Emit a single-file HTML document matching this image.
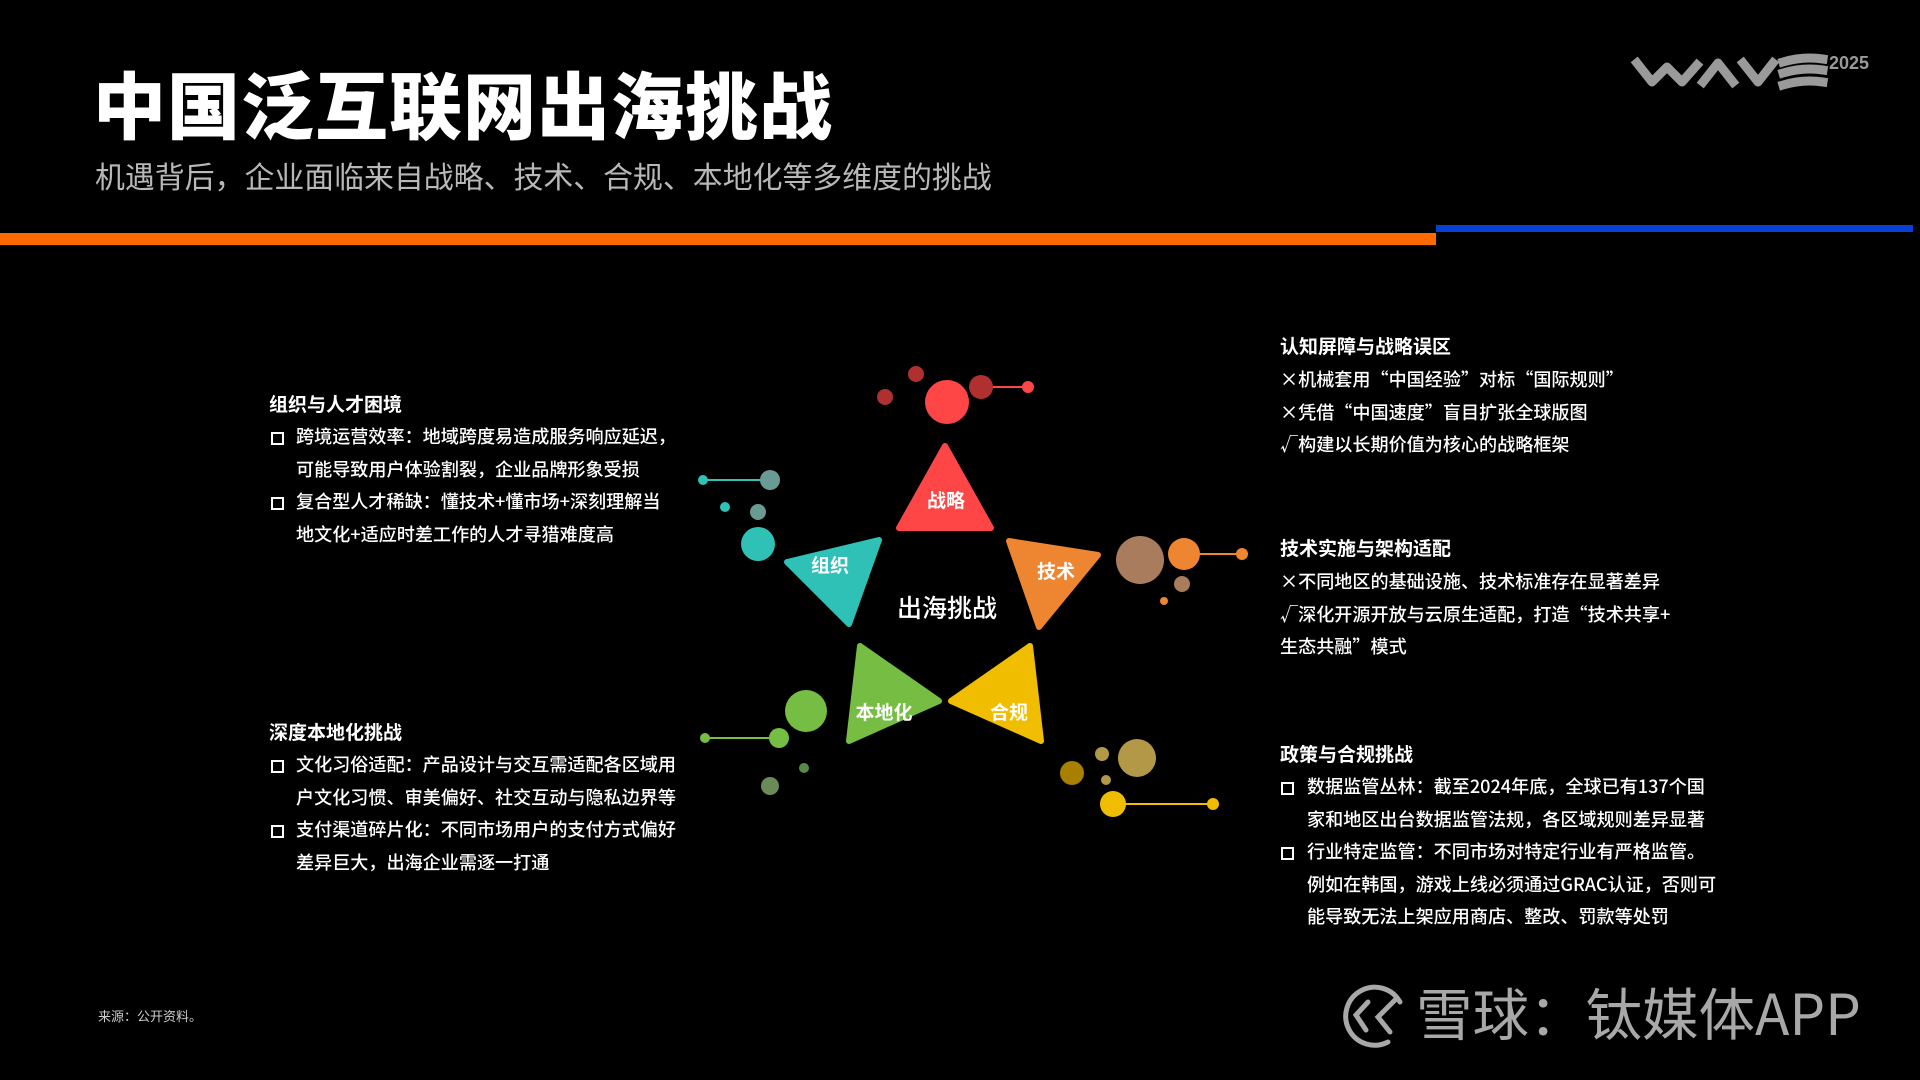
<!DOCTYPE html>
<html><head><meta charset="utf-8">
<style>
html,body{margin:0;padding:0;background:#000;}
body{width:1920px;height:1080px;position:relative;overflow:hidden;font-family:"Noto Sans CJK SC","Liberation Sans",sans-serif;color:#fff;}
.a{position:absolute;white-space:nowrap;}
.h{font-size:19px;font-weight:700;}
.t{font-size:18.1px;font-weight:500;line-height:32.5px;}
.b{position:absolute;width:9px;height:9px;border:2.5px solid #fff;}
</style></head><body>
<div class="a" style="left:93px;top:52px;font-size:73px;font-weight:900;letter-spacing:1px;line-height:100px;">中国泛互联网出海挑战</div>
<div class="a" style="left:95px;top:155px;font-size:29.9px;color:#b8b8b8;line-height:40px;">机遇背后，企业面临来自战略、技术、合规、本地化等多维度的挑战</div>
<div class="a" style="left:0;top:233px;width:1436px;height:12px;background:#ff6a00;"></div>
<div class="a" style="left:1436px;top:225px;width:477px;height:7px;background:#0a3fd6;"></div>
<svg class="a" style="left:1620px;top:45px" width="270" height="55">
<g fill="none" stroke="#9a9a9a" stroke-width="9" stroke-linejoin="round" stroke-linecap="square">
<polyline points="17,18 32,37 47,22 62,37 77,20"/>
<polyline points="83,37 98,18 113,37"/>
<polyline points="123,18 138,37 153,18"/>
<path d="M163,17 q20,-6 40,-3 M163,28 q20,-6 40,-3 M163,40 q20,-6 40,-3"/>
</g>
<text x="209" y="24" font-family="Liberation Sans,sans-serif" font-weight="700" font-size="18" fill="#9a9a9a">2025</text>
</svg>

<svg class="a" style="left:0;top:0" width="1920" height="1080">
<g stroke-linejoin="round" stroke-width="6">
<polygon points="945,446 899,528 991,528" fill="#ff4646" stroke="#ff4646"/>
<polygon points="1009,541 1098,555 1039,627" fill="#ed8531" stroke="#ed8531"/>
<polygon points="787,562 879,540 849,624" fill="#2fc0b6" stroke="#2fc0b6"/>
<polygon points="860,646 939,701 849,741" fill="#76bd43" stroke="#76bd43"/>
<polygon points="1030,646 951,701 1041,741" fill="#f0bd00" stroke="#f0bd00"/>
</g>
<circle cx="947" cy="402" r="22" fill="#ff4646"/>
<line x1="981" y1="387" x2="1028" y2="387" stroke="#ff4646" stroke-width="2"/>
<circle cx="981" cy="387" r="12" fill="#b03030"/>
<circle cx="1028" cy="387" r="6" fill="#ff4646"/>
<circle cx="916" cy="374" r="8" fill="#b03030"/>
<circle cx="885" cy="397" r="8" fill="#b03030"/>
<circle cx="1140" cy="560" r="24" fill="#a87c5c"/>
<line x1="1184" y1="554" x2="1242" y2="554" stroke="#ed8531" stroke-width="2"/>
<circle cx="1184" cy="554" r="16" fill="#ed8531"/>
<circle cx="1242" cy="554" r="6" fill="#ed8531"/>
<circle cx="1182" cy="584" r="8" fill="#a87c5c"/>
<circle cx="1164" cy="601" r="4" fill="#ed8531"/>
<circle cx="1137" cy="758" r="19" fill="#b39848"/>
<circle cx="1102" cy="754" r="7" fill="#b39848"/>
<circle cx="1072" cy="773" r="12" fill="#a88000"/>
<circle cx="1106" cy="780" r="5" fill="#b39848"/>
<line x1="1113" y1="804" x2="1213" y2="804" stroke="#f0bd00" stroke-width="2"/>
<circle cx="1113" cy="804" r="13" fill="#f0bd00"/>
<circle cx="1213" cy="804" r="6" fill="#f0bd00"/>
<circle cx="806" cy="711" r="21" fill="#76bd43"/>
<line x1="705" y1="738" x2="779" y2="738" stroke="#76bd43" stroke-width="2"/>
<circle cx="779" cy="738" r="10" fill="#76bd43"/>
<circle cx="705" cy="738" r="5" fill="#76bd43"/>
<circle cx="804" cy="768" r="5" fill="#5a8a4a"/>
<circle cx="770" cy="786" r="9" fill="#6a8a5a"/>
<line x1="703" y1="480" x2="770" y2="480" stroke="#2fc0b6" stroke-width="2"/>
<circle cx="770" cy="480" r="10" fill="#6a9a94"/>
<circle cx="703" cy="480" r="5" fill="#2fc0b6"/>
<circle cx="725" cy="507" r="5" fill="#2fc0b6"/>
<circle cx="758" cy="512" r="8" fill="#6a9a94"/>
<circle cx="758" cy="544" r="17" fill="#2fc0b6"/>
<g fill="#fff" font-family="Noto Sans CJK SC,sans-serif" font-weight="700" font-size="19" text-anchor="middle">
<text x="946" y="507">战略</text>
<text x="1056" y="578">技术</text>
<text x="830" y="572">组织</text>
<text x="884" y="719">本地化</text>
<text x="1009" y="719">合规</text>
<text x="947" y="617" font-size="25" font-weight="500">出海挑战</text>
</g>
<g fill="none" stroke="#a8a8a8" stroke-width="5" stroke-linecap="round">
<path d="M1388,1042 A29,29 0 1 1 1400,1002"/>
<path d="M1368,1002 L1356,1015 L1366,1030"/>
<path d="M1395,1000 L1378,1017 L1390,1032"/>
</g>
</svg>

<div class="a h" style="left:269px;top:390px;">组织与人才困境</div>
<div class="b" style="left:271px;top:432px;"></div>
<div class="b" style="left:271px;top:497px;"></div>
<div class="a t" style="left:296px;top:420px;">跨境运营效率：地域跨度易造成服务响应延迟，<br>可能导致用户体验割裂，企业品牌形象受损<br>复合型人才稀缺：懂技术+懂市场+深刻理解当<br>地文化+适应时差工作的人才寻猎难度高</div>

<div class="a h" style="left:269px;top:718px;">深度本地化挑战</div>
<div class="b" style="left:271px;top:760px;"></div>
<div class="b" style="left:271px;top:825px;"></div>
<div class="a t" style="left:296px;top:748px;">文化习俗适配：产品设计与交互需适配各区域用<br>户文化习惯、审美偏好、社交互动与隐私边界等<br>支付渠道碎片化：不同市场用户的支付方式偏好<br>差异巨大，出海企业需逐一打通</div>

<div class="a h" style="left:1280px;top:332px;">认知屏障与战略误区</div>
<div class="a t" style="left:1280px;top:363px;">×机械套用“中国经验”对标“国际规则”<br>×凭借“中国速度”盲目扩张全球版图<br>√构建以长期价值为核心的战略框架</div>

<div class="a h" style="left:1280px;top:534px;">技术实施与架构适配</div>
<div class="a t" style="left:1280px;top:565px;">×不同地区的基础设施、技术标准存在显著差异<br>√深化开源开放与云原生适配，打造“技术共享+<br>生态共融”模式</div>

<div class="a h" style="left:1280px;top:740px;">政策与合规挑战</div>
<div class="b" style="left:1281px;top:782px;"></div>
<div class="b" style="left:1281px;top:847px;"></div>
<div class="a t" style="left:1307px;top:770px;">数据监管丛林：截至2024年底，全球已有137个国<br>家和地区出台数据监管法规，各区域规则差异显著<br>行业特定监管：不同市场对特定行业有严格监管。<br>例如在韩国，游戏上线必须通过GRAC认证，否则可<br>能导致无法上架应用商店、整改、罚款等处罚</div>

<div class="a" style="left:98px;top:1006px;font-size:13px;color:#ccc;">来源：公开资料。</div>
<div class="a" style="left:1416px;top:974px;font-size:56.5px;color:#a8a8a8;line-height:75px;">雪球：钛媒体APP</div>
</body></html>
